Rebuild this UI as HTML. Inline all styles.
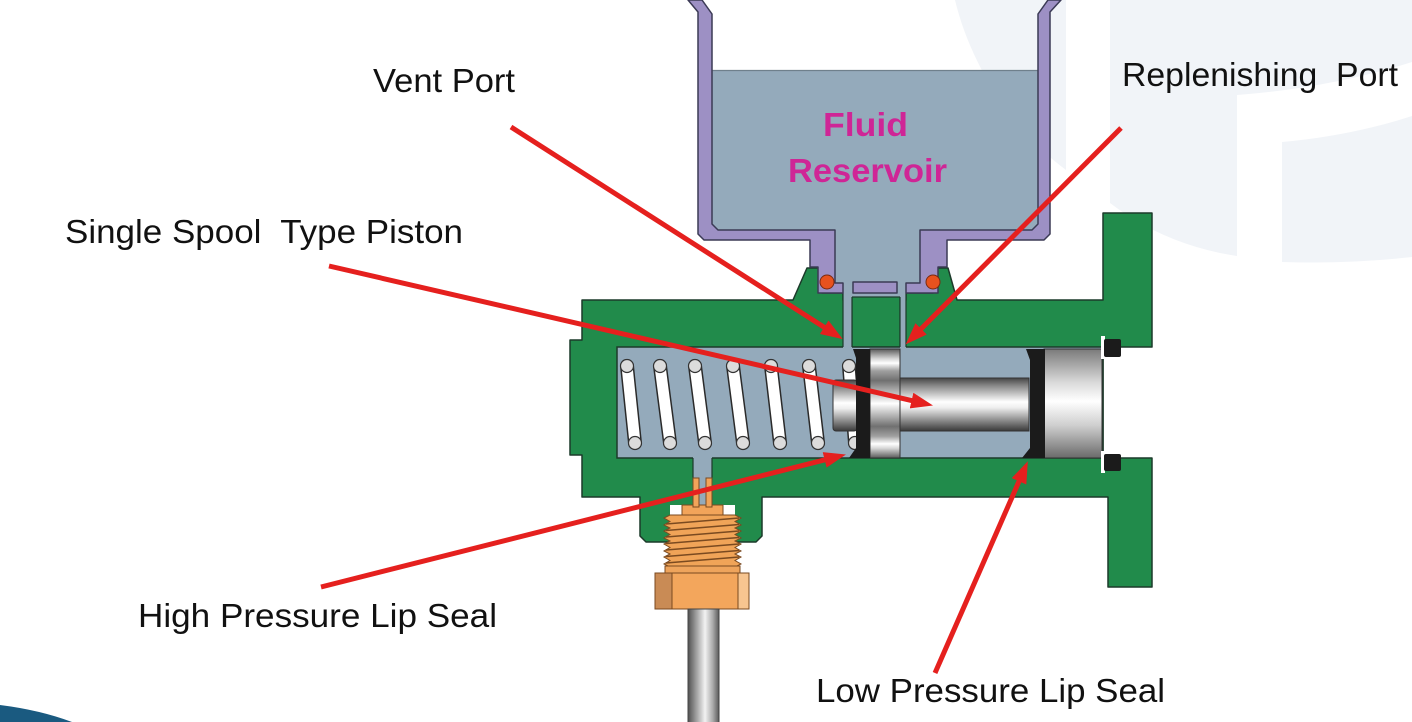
<!DOCTYPE html>
<html><head><meta charset="utf-8"><style>
html,body{margin:0;padding:0;background:#fff;}
svg{display:block;}
text{font-family:"Liberation Sans",Arial,sans-serif;}
</style></head><body>
<svg width="1412" height="722" viewBox="0 0 1412 722" xmlns="http://www.w3.org/2000/svg">
<defs>
<linearGradient id="stem" x1="0" y1="0" x2="0" y2="1">
<stop offset="0" stop-color="#454545"/><stop offset="0.15" stop-color="#8a8a8a"/><stop offset="0.45" stop-color="#ffffff"/><stop offset="0.56" stop-color="#eeeeee"/><stop offset="0.85" stop-color="#777"/><stop offset="1" stop-color="#3a3a3a"/>
</linearGradient>
<linearGradient id="head" x1="0" y1="0" x2="0" y2="1">
<stop offset="0" stop-color="#7a7a7a"/><stop offset="0.3" stop-color="#d8d8d8"/><stop offset="0.48" stop-color="#ffffff"/><stop offset="0.7" stop-color="#cfcfcf"/><stop offset="1" stop-color="#6a6a6a"/>
</linearGradient>
<linearGradient id="land" x1="0" y1="0" x2="0" y2="1">
<stop offset="0" stop-color="#5a5a5a"/><stop offset="0.09" stop-color="#d8d8d8"/><stop offset="0.13" stop-color="#ffffff"/><stop offset="0.2" stop-color="#a0a0a0"/><stop offset="0.29" stop-color="#707070"/><stop offset="0.5" stop-color="#ffffff"/><stop offset="0.71" stop-color="#707070"/><stop offset="0.8" stop-color="#a0a0a0"/><stop offset="0.87" stop-color="#ffffff"/><stop offset="0.91" stop-color="#d8d8d8"/><stop offset="1" stop-color="#5a5a5a"/>
</linearGradient>
<linearGradient id="rod" x1="0" y1="0" x2="1" y2="0">
<stop offset="0" stop-color="#505050"/><stop offset="0.25" stop-color="#9a9a9a"/><stop offset="0.55" stop-color="#f2f2f2"/><stop offset="0.8" stop-color="#aaaaaa"/><stop offset="1" stop-color="#5a5a5a"/>
</linearGradient>
<marker id="ah" markerUnits="userSpaceOnUse" markerWidth="24" markerHeight="18" refX="10" refY="8" orient="auto">
<path d="M0,0 L22,8 L0,16 Z" fill="#e5201e"/>
</marker>
</defs>

<rect width="1412" height="722" fill="#fff"/>

<!-- faint background shapes -->
<g fill="#f1f4f8">
<path d="M955,0 C968,55 1005,125 1066,170 L1066,0 Z"/>
<path d="M1110,0 H1412 V62 Q1330,88 1237,95 V256 Q1165,245 1110,203 Z"/>
<path d="M1282,142 Q1350,136 1412,116 V257 Q1350,264 1282,262 Z"/>
</g>
<path d="M0,705 Q40,710 72,722 L0,722 Z" fill="#1a5a80"/>

<!-- reservoir fluid -->
<rect x="706" y="70" width="338" height="168" fill="#94aabb"/>
<line x1="712" y1="70.5" x2="1038" y2="70.5" stroke="#6f808c" stroke-width="1.2"/>
<rect x="830" y="225" width="95" height="76" fill="#94aabb"/>

<!-- green body -->
<path d="M582,300 H793 L807,268 H822 V293 H843 V300 H906 V293 H933 V268 H948 L957,300 H1103 V213 H1152 V347 H1103 V458 H1152 V587 H1108 V497 H762 V536 L756,542 H646 L640,536 V497 H582 V455 H570 V340 H582 Z" fill="#218b4b" stroke="#1c3a2a" stroke-width="1.5" stroke-linejoin="round"/>
<rect x="852" y="297" width="48" height="50" fill="#218b4b" stroke="#1c3a2a" stroke-width="1.2"/>

<!-- bore & channels -->
<rect x="617" y="347" width="486" height="111" fill="#94aabb" stroke="#1c3a2a" stroke-width="1.5"/>
<rect x="843" y="283" width="9" height="66" fill="#94aabb"/>
<line x1="843" y1="293" x2="843" y2="347" stroke="#1c3a2a" stroke-width="1.2"/>
<line x1="852" y1="297" x2="852" y2="347" stroke="#1c3a2a" stroke-width="1.2"/>
<rect x="900" y="283" width="6" height="66" fill="#94aabb"/>
<line x1="900" y1="297" x2="900" y2="347" stroke="#1c3a2a" stroke-width="1.2"/>
<line x1="906" y1="293" x2="906" y2="347" stroke="#1c3a2a" stroke-width="1.2"/>
<rect x="693" y="456" width="19" height="56" fill="#94aabb"/>
<line x1="693" y1="458" x2="693" y2="480" stroke="#1c3a2a" stroke-width="1.2"/>
<line x1="712" y1="458" x2="712" y2="480" stroke="#1c3a2a" stroke-width="1.2"/>

<!-- purple reservoir -->
<g fill="#9d90c4" stroke="#3b3a55" stroke-width="1.5" stroke-linejoin="round">
<path d="M688,0 L698,12 V234 L704,240 H810 V267 H818 V293 H843 V283 H835 V230 H718 L712,224 V14 L702,0 Z"/>
<path d="M1061,0 L1050,12 V234 L1044,240 H947 V267 H938 V293 H906 V283 H920 V230 H1032 L1038,224 V14 L1048,0 Z"/>
<rect x="853" y="282" width="44" height="11"/>
</g>
<!-- o-rings -->
<circle cx="827" cy="282" r="7" fill="#e8521e" stroke="#7a2a10" stroke-width="1"/>
<circle cx="933" cy="282" r="7" fill="#e8521e" stroke="#7a2a10" stroke-width="1"/>

<!-- spring -->
<g stroke-linecap="round">
<g stroke="#2a2a2a" stroke-width="14">
<line x1="627" y1="366" x2="635" y2="443"/><line x1="660" y1="366" x2="670" y2="443"/><line x1="695" y1="366" x2="705" y2="443"/><line x1="733" y1="366" x2="743" y2="443"/><line x1="771" y1="366" x2="780" y2="443"/><line x1="809" y1="366" x2="818" y2="443"/><line x1="849" y1="366" x2="855" y2="443"/>
</g>
<g stroke="#ffffff" stroke-width="11">
<line x1="627" y1="366" x2="635" y2="443"/><line x1="660" y1="366" x2="670" y2="443"/><line x1="695" y1="366" x2="705" y2="443"/><line x1="733" y1="366" x2="743" y2="443"/><line x1="771" y1="366" x2="780" y2="443"/><line x1="809" y1="366" x2="818" y2="443"/><line x1="849" y1="366" x2="855" y2="443"/>
</g>
</g>
<g fill="#dcdcdc" stroke="#333" stroke-width="1.2">
<circle cx="627" cy="366" r="6.5"/><circle cx="660" cy="366" r="6.5"/><circle cx="695" cy="366" r="6.5"/><circle cx="733" cy="366" r="6.5"/><circle cx="771" cy="366" r="6.5"/><circle cx="809" cy="366" r="6.5"/><circle cx="849" cy="366" r="6.5"/>
<circle cx="635" cy="443" r="6.5"/><circle cx="670" cy="443" r="6.5"/><circle cx="705" cy="443" r="6.5"/><circle cx="743" cy="443" r="6.5"/><circle cx="780" cy="443" r="6.5"/><circle cx="818" cy="443" r="6.5"/><circle cx="855" cy="443" r="6.5"/>
</g>

<!-- piston -->
<rect x="833" y="380" width="24" height="51" rx="3" fill="url(#stem)" stroke="#333" stroke-width="1"/>
<rect x="899" y="378" width="130" height="53" fill="url(#stem)" stroke="#333" stroke-width="1"/>
<rect x="870" y="349" width="30" height="109" fill="url(#land)" stroke="#333" stroke-width="1"/>
<path d="M853,349 L870,349 L870,458 L849,458 L856,448 L856,358 Z" fill="#1b1b1b"/>
<rect x="1044" y="349" width="58" height="109" fill="url(#head)" stroke="#333" stroke-width="1"/>
<path d="M1026,349 L1045,349 L1045,458 L1022,458 L1030,448 L1030,360 Z" fill="#1b1b1b"/>

<!-- end seals -->
<rect x="1101" y="336" width="4" height="23" fill="#fff"/>
<rect x="1101" y="451" width="4" height="22" fill="#fff"/>
<rect x="1104" y="339" width="17" height="18" rx="2" fill="#1b1b1b"/>
<rect x="1104" y="454" width="17" height="17" rx="2" fill="#1b1b1b"/>

<!-- fitting -->
<rect x="670" y="505" width="65" height="10" fill="#fff"/>
<rect x="682" y="505" width="41" height="10" fill="#f2a45a" stroke="#7a4a20" stroke-width="1"/>
<rect x="693" y="478" width="6" height="29" fill="#f2a45a" stroke="#7a4a20" stroke-width="1"/>
<rect x="706" y="478" width="6" height="29" fill="#f2a45a" stroke="#7a4a20" stroke-width="1"/>
<polygon points="670,515 664,518 670,521.5 664,525 670,528 664,531 670,534.5 664,538 670,541 664,544 670,547.5 664,551 670,554 664,557 670,560.5 664,564 670,567 735,567 741,564 735,560.5 741,557 735,554 741,551 735,547.5 741,544 735,541 741,538 735,534.5 741,531 735,528 741,525 735,521.5 741,518 735,515" fill="#f0a458" stroke="#7a4a20" stroke-width="1"/>
<g stroke="#7a4a20" stroke-width="1.4">
<line x1="666" y1="524" x2="739" y2="518"/><line x1="666" y1="530.5" x2="739" y2="524.5"/><line x1="666" y1="537" x2="739" y2="531"/><line x1="666" y1="543.5" x2="739" y2="537.5"/><line x1="666" y1="550" x2="739" y2="544"/><line x1="666" y1="556.5" x2="739" y2="550.5"/><line x1="666" y1="563" x2="739" y2="557"/>
</g>
<rect x="665" y="566" width="75" height="8" fill="#eea45c" stroke="#7a4a20" stroke-width="1"/>
<rect x="655" y="573" width="17" height="36" fill="#c98b55" stroke="#7a4a20" stroke-width="1"/>
<rect x="672" y="573" width="66" height="36" fill="#f3a65c" stroke="#7a4a20" stroke-width="1"/>
<rect x="738" y="573" width="11" height="36" fill="#f7c590" stroke="#7a4a20" stroke-width="1"/>
<rect x="688" y="609" width="31" height="115" fill="url(#rod)" stroke="#444" stroke-width="1"/>

<!-- arrows -->
<g stroke="#e5201e" stroke-width="5" fill="none" marker-end="url(#ah)">
<line x1="511" y1="127" x2="832.6" y2="332.6"/>
<line x1="1121" y1="128" x2="914.1" y2="335.9"/>
<line x1="329" y1="266" x2="921.3" y2="402.8"/>
<line x1="321" y1="587" x2="834.3" y2="457.4"/>
<line x1="935" y1="673" x2="1023" y2="472.2"/>
</g>

<!-- labels -->
<g fill="#111" font-size="33">
<text x="373" y="92" textLength="142" lengthAdjust="spacingAndGlyphs">Vent Port</text>
<text x="1122" y="86" textLength="276" lengthAdjust="spacingAndGlyphs">Replenishing&#160; Port</text>
<text x="65" y="243" textLength="398" lengthAdjust="spacingAndGlyphs">Single Spool&#160; Type Piston</text>
<text x="138" y="627" textLength="359" lengthAdjust="spacingAndGlyphs">High Pressure Lip Seal</text>
<text x="816" y="702" textLength="349" lengthAdjust="spacingAndGlyphs">Low Pressure Lip Seal</text>
</g>
<g fill="#cf2596" font-size="33" font-weight="bold">
<text x="823" y="136" textLength="85" lengthAdjust="spacingAndGlyphs">Fluid</text>
<text x="788" y="182" textLength="159" lengthAdjust="spacingAndGlyphs">Reservoir</text>
</g>
</svg>
</body></html>
